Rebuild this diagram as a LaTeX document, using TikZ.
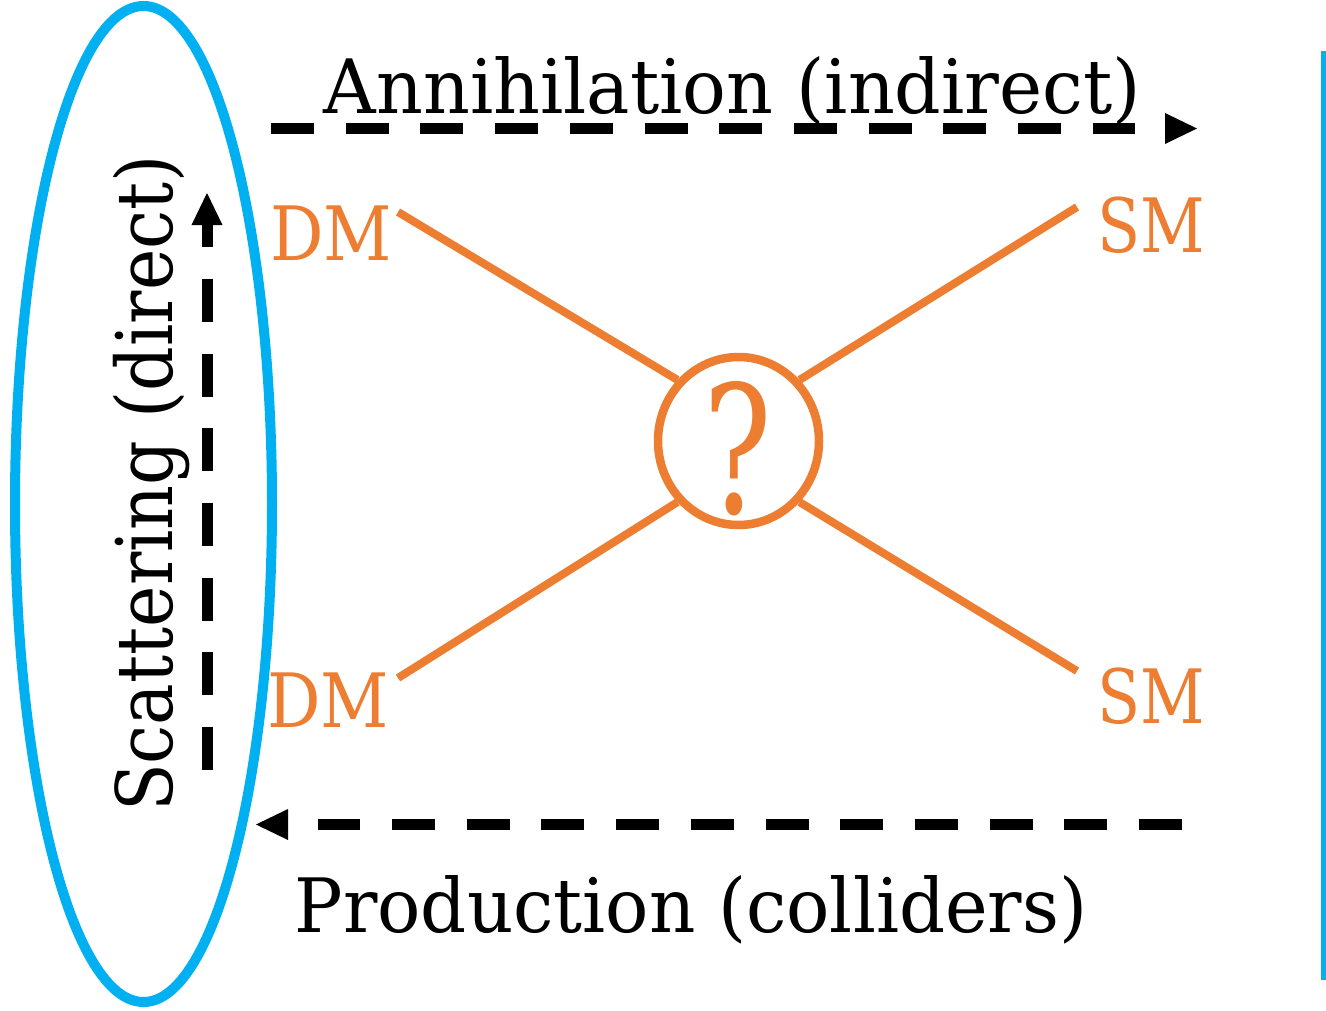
\documentclass[tikz,border=0pt]{standalone}
\usepackage{fontspec}
\setmainfont{DejaVu Serif}
\usetikzlibrary{arrows.meta,shapes.geometric}
\definecolor{dmorange}{HTML}{ED7D31}
\definecolor{skyblue}{HTML}{00B0F0}

\begin{document}
\begin{tikzpicture}[x=1pt,y=-1pt,
  lbl/.style={inner sep=0pt, anchor=base, font=\fontsize{75}{90}\selectfont},
  particle/.style={lbl, text=dmorange},
  leg/.style={draw=dmorange, line width=8pt},
  probe/.style={line width=11pt, dash pattern=on 43pt off 31.7pt},
  headtip/.style={-{Triangle[length=32pt,width=31pt,line width=0pt]}},
  detached/.style={shorten >=62pt},
  headfill/.style={fill=black},
  ]
\useasboundingbox (0,0) rectangle (1326,1010);

% detection channels
\node[draw=skyblue, line width=10pt, ellipse, inner sep=0pt, outer sep=0pt,
      minimum width=257pt, minimum height=996pt] (ring) at (143.5,504) {};
\coordinate (rt) at (1323.5,51);
\coordinate (rb) at (1323.5,980);
\draw[skyblue, line width=5pt] (rt) -- (rb);

% central vertex
\node[draw=dmorange, line width=8.5pt, ellipse, inner sep=0pt,
      minimum width=161pt, minimum height=168pt] (vtx) at (738.5,441) {};
\node[anchor=base, inner sep=0pt, text=dmorange,
      font=\fontsize{178}{200}\selectfont] (qm) at (738,513)
      {\scalebox{0.72}[1]{?}};

% external legs
\coordinate (tl) at (398,212);
\coordinate (tr) at (1077,207);
\coordinate (bl) at (398,678);
\coordinate (br) at (1077,671);
\draw[leg] (tl) -- (vtx.135);
\draw[leg] (tr) -- (vtx.45);
\draw[leg] (bl) -- (vtx.225);
\draw[leg] (br) -- (vtx.315);

\node[particle] (dm1) at (331,260) {\scalebox{0.89}[1]{DM}};
\node[particle] (dm2) at (328,727) {\scalebox{0.89}[1]{DM}};
\node[particle] (sm1) at (1151,252) {\scalebox{0.84}[1]{SM}};
\node[particle] (sm2) at (1151,723) {\scalebox{0.84}[1]{SM}};

% process labels
\node[lbl] (ann) at (732.5,113) {\scalebox{0.97}[1]{Annihilation (indirect)}};
\node[lbl] (prod) at (691,932) {\scalebox{0.96}[1]{Production (colliders)}};
\node[lbl, rotate=90, font=\fontsize{78}{90}\selectfont] (scat) at (172,483.5)
      {\scalebox{0.895}[1]{Scattering (direct)}};

% process arrows: dashed shaft, with the head set apart from it
\coordinate (a0) at (271,128.5);
\coordinate (a1) at (1197,128.5);
\draw[probe, detached] (a0) -- (a1);
\fill[headfill] (a1) -- ++(-32,-15.5) -- ++(0,31) -- cycle;

\coordinate (b0) at (1182,824.5);
\coordinate (b1) at (256,824.5);
\draw[probe, detached] (b0) -- (b1);
\fill[headfill] (b1) -- ++(32,-15.5) -- ++(0,31) -- cycle;

\coordinate (v0) at (207,770);
\coordinate (v1) at (207,193);
\draw[probe, headtip] (v0) -- (v1);
\end{tikzpicture}
\end{document}
